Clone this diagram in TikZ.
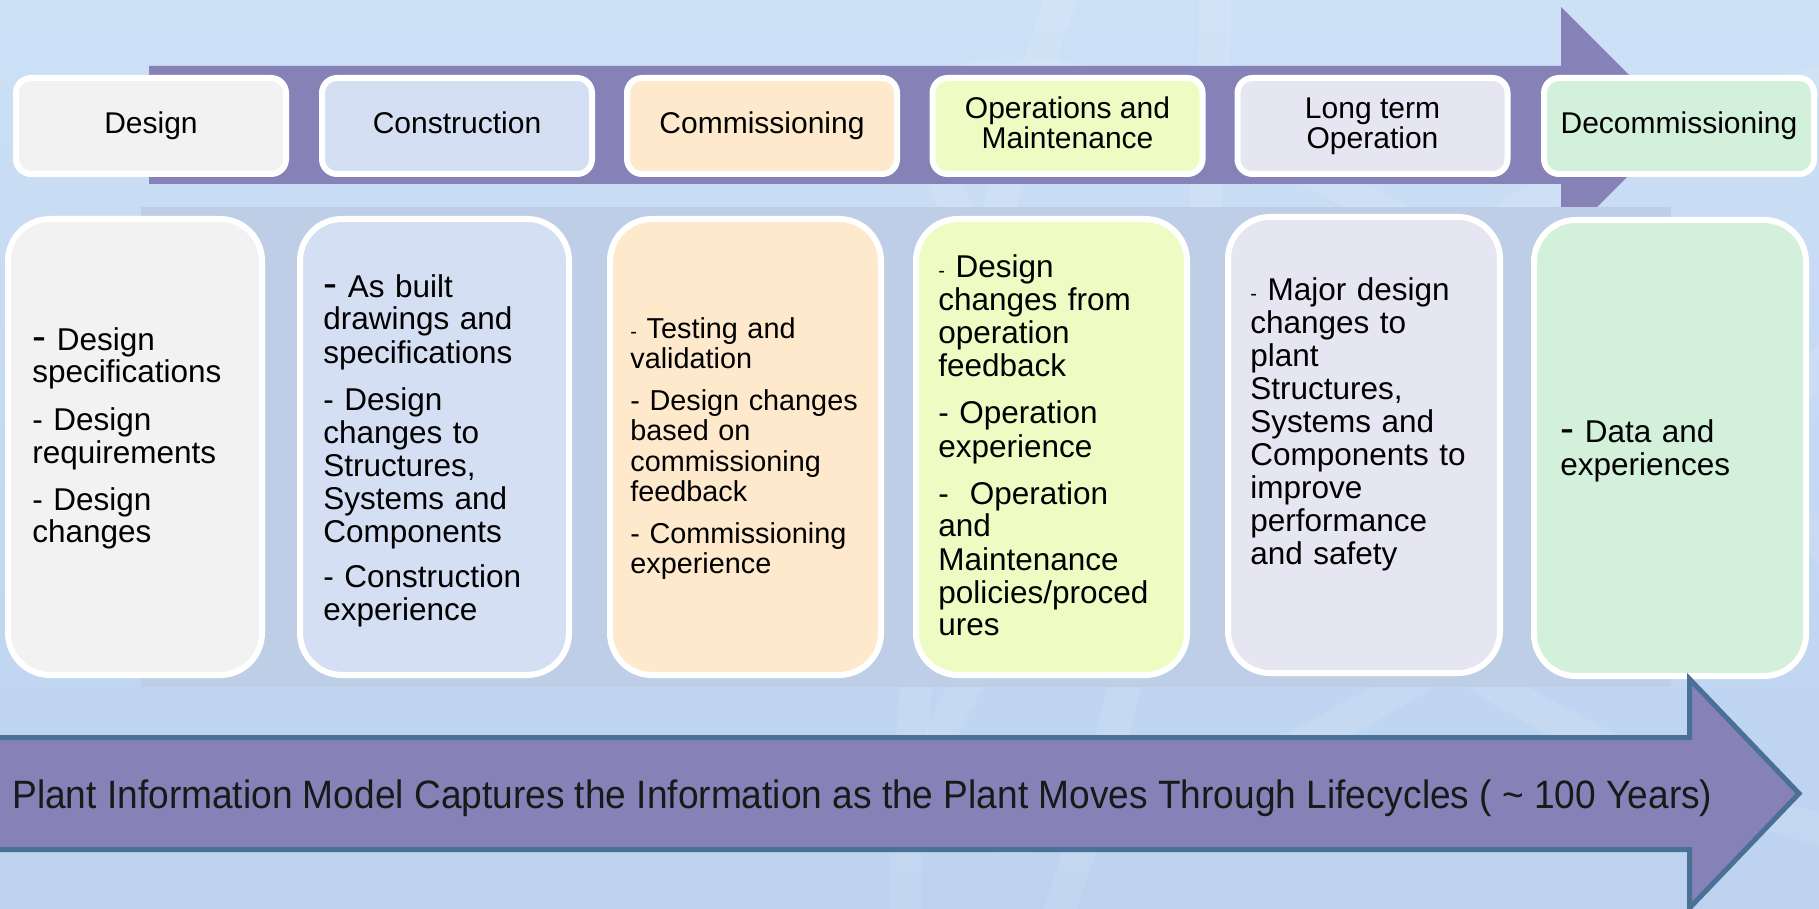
\documentclass[tikz,border=0pt]{standalone}
\usepackage{fontspec}
\setmainfont{Liberation Sans}
\usepackage{graphicx}
\definecolor{bgtop}{HTML}{CCE0F6}
\definecolor{bgbot}{HTML}{BCD2EF}
\definecolor{arrowpurple}{HTML}{8682B8}
\definecolor{arrowedge}{HTML}{4A7096}
\definecolor{bandblue}{HTML}{BDCEE6}
\definecolor{cDesign}{HTML}{F2F2F2}
\definecolor{cConstr}{HTML}{D5DFF3}
\definecolor{cComm}{HTML}{FEE9CD}
\definecolor{cOM}{HTML}{EEFCC4}
\definecolor{cLTO}{HTML}{E6E5F2}
\definecolor{cDecom}{HTML}{D2F0DA}
\newcommand{\bigdash}{{\fontsize{21pt}{16pt}\selectfont -}}
\newcommand{\smalldash}{{\fontsize{10pt}{10pt}\selectfont -}}
\newcommand{\ls}{\vphantom{Ag}}
\tikzset{
  phasebox/.style={draw=white, line width=3pt, rounded corners=7.5pt,
    minimum width=135pt, minimum height=48pt, inner sep=0pt, align=center,
    font=\fontsize{15pt}{15pt}\selectfont},
  detailbox/.style={draw=white, line width=3pt, rounded corners=21pt,
    minimum height=228pt, inner sep=0pt},
  detailtext/.style={anchor=base west, inner sep=0pt, text width=134pt, align=left,
    font=\fontsize{15.75pt}{16.5pt}\selectfont},
  smalltext/.style={detailtext, font=\fontsize{14.4pt}{15.25pt}\selectfont},
  swirl/.style={draw=white, draw opacity=0.1, line width=16pt},
}
\begin{document}
\begin{tikzpicture}[x=0.5pt,y=-0.5pt]
\useasboundingbox (0,0) rectangle (1819,909);
% background
\shade[top color=bgtop, bottom color=bgbot] (0,0) rectangle (1819,909);
\begin{scope}
\clip (0,0) rectangle (1819,909);
\draw[swirl, rotate around={80:(1060,455)}] (1060,455) ellipse (640 and 110);
\draw[swirl, rotate around={35:(1450,455)}] (1450,455) ellipse (620 and 170);
\draw[swirl, rotate around={-35:(1450,455)}] (1450,455) ellipse (620 and 170);
\end{scope}
% top arrow
\fill[arrowpurple] (149,66) -- (1561,66) -- (1561,7) -- (1679,125) -- (1561,243) -- (1561,184) -- (149,184) -- cycle;
% band behind detail boxes
\fill[bandblue] (141,207) rectangle (1671,687);
% phase boxes
\node[phasebox, fill=cDesign] (pDesign) at (151,126) {Design\ls};
\node[phasebox, fill=cConstr] (pConstr) at (457,126) {Construction\ls};
\node[phasebox, fill=cComm] (pComm) at (762,126) {Commissioning\ls};
\node[phasebox, fill=cOM] (pOM) at (1067.5,126) {Operations and\ls\\Maintenance\ls};
\node[phasebox, fill=cLTO] (pLTO) at (1372.5,126) {Long term\ls\\Operation\ls};
\node[phasebox, fill=cDecom] (pDecom) at (1679,126) {Decommissioning\ls};
% detail boxes
\node[detailbox, fill=cDesign, minimum width=127pt] (dDesign) at (135,447) {};
\node[detailbox, fill=cConstr, minimum width=134.5pt] (dConstr) at (434.5,447) {};
\node[detailbox, fill=cComm, minimum width=135.5pt] (dComm) at (745.5,447) {};
\node[detailbox, fill=cOM, minimum width=135.5pt] (dOM) at (1051.5,447) {};
\node[detailbox, fill=cLTO, minimum width=136pt] (dLTO) at (1364,445) {};
\node[detailbox, fill=cDecom, minimum width=136pt] (dDecom) at (1670,448) {};
% detail texts
\node[detailtext] (tDesign) at (32,350) {\bigdash\ Design\\specifications\\[7pt]- Design\\requirements\\[7pt]- Design\\changes};
\node[detailtext] (tConstr) at (323,297) {\bigdash\ As built\\drawings and\\specifications\\[7pt]- Design\\changes to\\Structures,\\Systems and\\Components\\[6pt]- Construction\\experience};
\node[smalltext] (tComm) at (630,338) {\smalldash\ Testing and\\validation\\[5.5pt]- Design changes\\based on\\commissioning\\feedback\\[5.5pt]- Commissioning\\experience};
\node[detailtext] (tOM) at (938,278) {\smalldash\ Design\\changes from\\operation\\feedback\\[7pt]- Operation\\experience\\[7pt]-\ \ Operation\\and\\Maintenance\\policies/proced\\ures};
\node[detailtext] (tLTO) at (1250,300) {\smalldash\ Major design\\changes to\\plant\\Structures,\\Systems and\\Components to\\improve\\performance\\and safety};
\node[detailtext] (tDecom) at (1560,442) {\bigdash\ Data and\\experiences};
% bottom arrow
\draw[arrowedge, fill=arrowpurple, line width=2.5pt, miter limit=10]
  (-10,737.5) -- (1689.5,737.5) -- (1689.5,679) -- (1799,793.5) -- (1689.5,908) -- (1689.5,849.5) -- (-10,849.5) -- cycle;
\node[anchor=base west, inner sep=0pt, text=black!90] (lifecycle) at (12,808)
  {\resizebox{850pt}{\height}{\fontsize{19.8pt}{20pt}\selectfont Plant Information Model Captures the Information as the Plant Moves Through Lifecycles ( \textasciitilde{} 100 Years)}};
\end{tikzpicture}
\end{document}
